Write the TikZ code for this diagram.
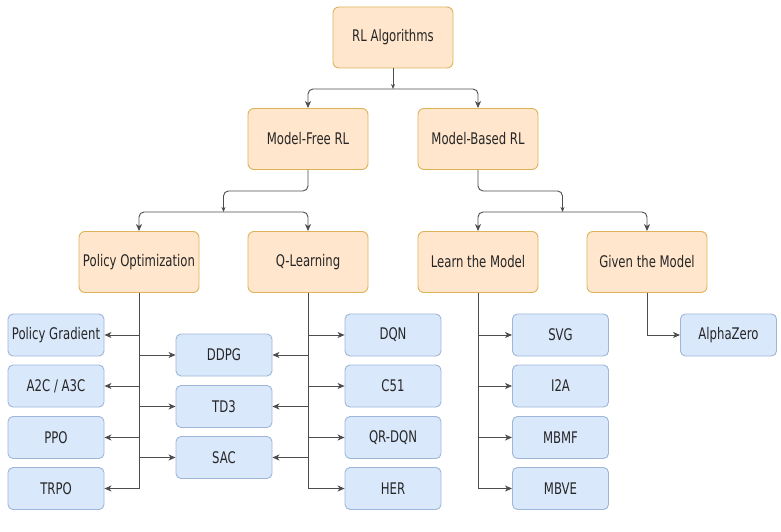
\documentclass[tikz,border=0pt]{standalone}
\usepackage{fontspec}
\setmainfont[FakeStretch=0.73]{DejaVu Sans}
\usetikzlibrary{arrows.meta}
\definecolor{catfill}{HTML}{FFE6CC}
\definecolor{catline}{HTML}{DDB35A}
\definecolor{algfill}{HTML}{DAE8FC}
\definecolor{algline}{HTML}{9FB6D8}
\definecolor{wire}{HTML}{4D4D4D}
\definecolor{txt}{HTML}{262626}

\begin{document}
\begin{tikzpicture}[x=1pt,y=-1pt,
  cat/.style={draw=catline, fill=catfill, rounded corners=6pt, line width=0.9pt,
    minimum width=120pt, minimum height=61pt, text=txt, font=\fontsize{16}{19}\selectfont},
  alg/.style={draw=algline, fill=algfill, rounded corners=5pt, line width=0.9pt,
    minimum width=96pt, minimum height=42pt, text=txt, font=\fontsize{16}{19}\selectfont},
  link/.style={draw=wire, line width=0.9pt, -{Stealth[length=7pt,width=6pt,inset=2pt]}},
  feed/.style={draw=wire, line width=0.9pt, -{Stealth[length=5pt,width=4pt,inset=1.5pt]}}]
  \useasboundingbox (0,0) rectangle (781,532);

  % categories
  \node[cat] (rl) at (393,37.5) {RL Algorithms};
  \node[cat] (mf) at (308,139) {Model-Free RL};
  \node[cat] (mb) at (478,139) {Model-Based RL};
  \node[cat] (po) at (139,262) {Policy Optimization};
  \node[cat] (ql) at (308,262) {Q-Learning};
  \node[cat] (lm) at (478,262) {Learn the Model};
  \node[cat] (gm) at (647,262) {Given the Model};

  % algorithms
  \node[alg] (pg)    at (56,335)    {Policy Gradient};
  \node[alg] (a2c)   at (56,386)    {A2C / A3C};
  \node[alg] (ppo)   at (56,437.5)  {PPO};
  \node[alg] (trpo)  at (56,488.5)  {TRPO};
  \node[alg] (ddpg)  at (224,355)   {DDPG};
  \node[alg] (td3)   at (224,406.5) {TD3};
  \node[alg] (sac)   at (224,457.5) {SAC};
  \node[alg] (dqn)   at (393,335)   {DQN};
  \node[alg] (c51)   at (393,386)   {C51};
  \node[alg] (qrdqn) at (393,437.5) {QR-DQN};
  \node[alg] (her)   at (393,488.5) {HER};
  \node[alg] (svg)   at (560.5,335)   {SVG};
  \node[alg] (i2a)   at (560.5,386)   {I2A};
  \node[alg] (mbmf)  at (560.5,437.5) {MBMF};
  \node[alg] (mbve)  at (560.5,488.5) {MBVE};
  \node[alg] (az)    at (728.5,335)   {AlphaZero};

  % tree
  \coordinate (j1) at (393,89);
  \coordinate (j2) at (223.5,212);
  \coordinate (j3) at (562.5,212);
  \draw[feed] (rl.south) -- (j1);
  \draw[link, rounded corners=5pt] (j1) -| (mf.north);
  \draw[link, rounded corners=5pt] (j1) -| (mb.north);
  \draw[feed, rounded corners=5pt] (mf.south) -- ++(0,21) -| (j2);
  \draw[feed, rounded corners=5pt] (mb.south) -- ++(0,21) -| (j3);
  \draw[link, rounded corners=5pt] (j2) -| (po.north);
  \draw[link, rounded corners=5pt] (j2) -| (ql.north);
  \draw[link, rounded corners=5pt] (j3) -| (lm.north);
  \draw[link, rounded corners=5pt] (j3) -| (gm.north);

  % leaves
  \draw[link] (po.south) |- (trpo.east);
  \foreach \n in {pg,a2c,ppo} \draw[link] (po.south |- \n.east) -- (\n.east);
  \foreach \n in {ddpg,td3,sac} \draw[link] (po.south |- \n.west) -- (\n.west);
  \draw[link] (ql.south) |- (her.west);
  \foreach \n in {dqn,c51,qrdqn} \draw[link] (ql.south |- \n.west) -- (\n.west);
  \foreach \n in {ddpg,td3,sac} \draw[link] (ql.south |- \n.east) -- (\n.east);
  \draw[link] (lm.south) |- (mbve.west);
  \foreach \n in {svg,i2a,mbmf} \draw[link] (lm.south |- \n.west) -- (\n.west);
  \draw[link] (gm.south) |- (az.west);
\end{tikzpicture}
\end{document}
